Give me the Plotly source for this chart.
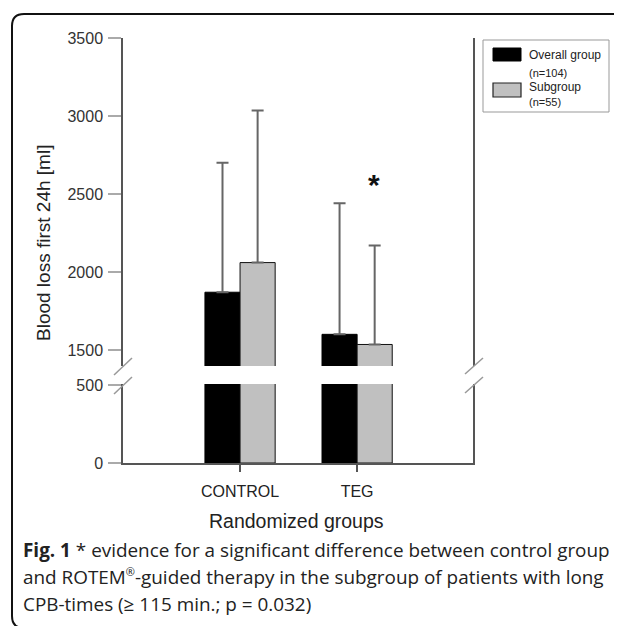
import plotly.graph_objects as go

categories = ["CONTROL", "TEG"]
overall_mean = [1870, 1600]
overall_upper = [2700, 2440]
subgroup_mean = [2060, 1535]
subgroup_upper = [3035, 2170]
lower_ticks = [0, 500]
upper_ticks = [1500, 2000, 2500, 3000, 3500]
lower_range = [0, 506]
upper_range = [1397, 3500]

# page has an 8px body margin; work in reference pixel coords and shift
OFF = 8
W, H = 622 - OFF, 626 - OFF
ML, MT = 123 - OFF, 38 - OFF
MR = W - (473 - OFF)
MB = H - (463 - OFF)
PW = W - ML - MR
PH = H - MT - MB


def px(x):
    return (x - OFF - ML) / PW


def py(y):
    return (H - MB - (y - OFF)) / PH


overall_err = [u - m for u, m in zip(overall_upper, overall_mean)]
subgroup_err = [u - m for u, m in zip(subgroup_upper, subgroup_mean)]

fig = go.Figure()
for ax in ["y", "y2"]:
    err_o = dict(type="data", array=overall_err, arrayminus=[0, 0], symmetric=False,
                 color="#666", thickness=2, width=6, visible=(ax == "y2"))
    err_s = dict(type="data", array=subgroup_err, arrayminus=[0, 0], symmetric=False,
                 color="#666", thickness=2, width=6, visible=(ax == "y2"))
    fig.add_trace(go.Bar(x=categories, y=overall_mean, width=0.3, offset=-0.3,
                         marker=dict(color="#000000", line=dict(color="#000", width=1)),
                         error_y=err_o, yaxis=ax, showlegend=False, name="Overall group"))
    fig.add_trace(go.Bar(x=categories, y=subgroup_mean, width=0.3, offset=0,
                         marker=dict(color="#c0c0c0", line=dict(color="#111", width=1)),
                         error_y=err_s, yaxis=ax, showlegend=False, name="Subgroup"))

axis_common = dict(showline=True, linecolor="#555", linewidth=1.5, ticks="outside",
                   ticklen=13, tickcolor="#aaa", tickwidth=1.5, showgrid=False, zeroline=False,
                   mirror=True, tickfont=dict(family="Liberation Sans, Arial", size=16, color="#333"),
                   ticklabelstandoff=2)

fig.update_layout(
    width=W, height=H,
    margin=dict(l=ML, r=MR, t=MT, b=MB),
    paper_bgcolor="white", plot_bgcolor="white",
    barmode="overlay",
    xaxis=dict(type="category", range=[-1.0, 1.99], showline=True, linecolor="#555",
               linewidth=1.5, ticks="outside", ticklen=7, tickcolor="#555", tickwidth=1.5,
               showgrid=False, zeroline=False, anchor="y", ticklabelstandoff=6,
               tickfont=dict(family="Liberation Sans, Arial", size=16, color="#222")),
    yaxis=dict(domain=[0, py(384)], range=lower_range, tickvals=lower_ticks, anchor="x",
               **axis_common),
    yaxis2=dict(domain=[py(366), 1], range=upper_range, tickvals=upper_ticks, anchor="x",
                **axis_common),
    font=dict(family="Liberation Sans, Arial", color="#222"),
)

shapes = []
# axis break marks
for (x0, y0, x1, y1) in [(114, 375, 132, 358), (114, 394, 132, 377),
                         (465, 374, 483, 358), (465, 393, 483, 377)]:
    shapes.append(dict(type="line", xref="paper", yref="paper", x0=px(x0), y0=py(y0),
                       x1=px(x1), y1=py(y1), line=dict(color="#999", width=1.5)))
# legend box and swatches
shapes.append(dict(type="rect", xref="paper", yref="paper", x0=px(483), x1=px(609),
                   y0=py(112), y1=py(40), line=dict(color="#999", width=1), fillcolor="white"))
shapes.append(dict(type="rect", xref="paper", yref="paper", x0=px(493), x1=px(521),
                   y0=py(61), y1=py(48), line=dict(color="#000", width=1), fillcolor="#000"))
shapes.append(dict(type="rect", xref="paper", yref="paper", x0=px(493), x1=px(521),
                   y0=py(97), y1=py(83), line=dict(color="#222", width=1.2), fillcolor="#c0c0c0"))
# outer rounded border
path = (f"M {px(640)},{py(14)} L {px(24)},{py(14)} Q {px(12)},{py(14)} {px(12)},{py(26)} "
        f"L {px(12)},{py(616)} Q {px(12)},{py(628)} {px(24)},{py(628)}")
shapes.append(dict(type="path", xref="paper", yref="paper", path=path,
                   line=dict(color="#111", width=2)))
fig.update_layout(shapes=shapes)

ann = []
for txt, yy, sz in [("Overall group", 55, 12), ("(n=104)", 73, 11),
                    ("Subgroup", 87, 12), ("(n=55)", 102, 11)]:
    ann.append(dict(text=txt, xref="paper", yref="paper", x=px(527), y=py(yy),
                    xanchor="left", yanchor="middle", showarrow=False,
                    font=dict(family="Liberation Sans, Arial", size=sz, color="#222")))
ann.append(dict(text="<b>*</b>", xref="x", yref="y2", x="TEG", xshift=17, y=2560,
                yanchor="middle", showarrow=False,
                font=dict(family="Liberation Sans, Arial", size=30, color="#111")))
ann.append(dict(text="Blood loss first 24h [ml]", xref="paper", yref="paper", x=px(44), y=py(243),
                textangle=-90, showarrow=False, xanchor="center", yanchor="middle",
                font=dict(family="Liberation Sans, Arial", size=19, color="#222")))
ann.append(dict(text="Randomized groups", xref="paper", yref="paper", x=px(296), y=py(521),
                showarrow=False, xanchor="center", yanchor="middle",
                font=dict(family="Liberation Sans, Arial", size=19.5, color="#222")))
cap_font = dict(family="Open Sans", size=18.9, color="#222")
for txt, yy in [("<b>Fig. 1</b> * evidence for a significant difference between control group", 550),
                ("and ROTEM<sup><span style='font-size:11px'>®</span></sup>-guided therapy in the subgroup of patients with long", 577),
                ("CPB-times (≥ 115 min.; p = 0.032)", 604)]:
    ann.append(dict(text=txt, xref="paper", yref="paper", x=px(21), y=py(yy),
                    xanchor="left", yanchor="middle", showarrow=False, font=cap_font))
fig.update_layout(annotations=ann)

fig.write_html("out.html")
